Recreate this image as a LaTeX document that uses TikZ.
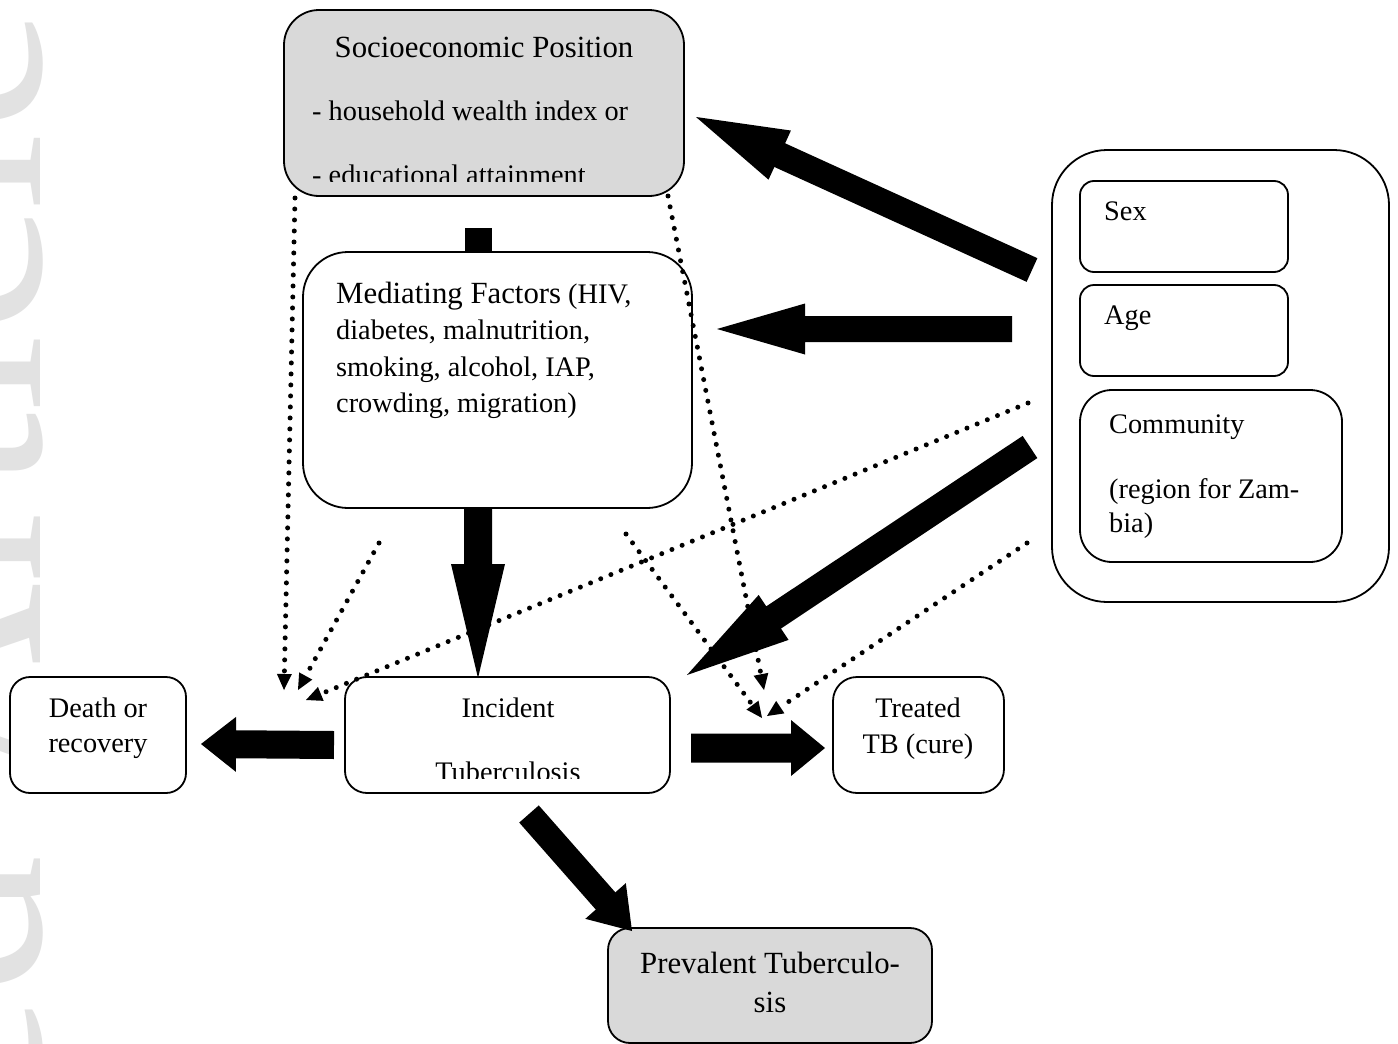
\documentclass[tikz,border=0pt]{standalone}
\usepackage{fontspec}
\setmainfont{Liberation Serif}
\newfontfamily\wmfont{Liberation Serif}
\usetikzlibrary{calc,arrows.meta}
\definecolor{boxgray}{HTML}{D9D9D9}
\definecolor{wmgray}{HTML}{E2E2E2}
\newcommand\txtnorm{\fontsize{28.3pt}{37pt}\selectfont}
\newcommand\txtbig{\fontsize{30.8pt}{40pt}\selectfont}
% tail, tip, half shaft width, half head width, head length
\newcommand\blockarrow[5]{%
  \coordinate (bah) at ($(#2)!#5!(#1)$);
  \fill[blk] ($(#1)!#3!90:(#2)$) -- ($(bah)!#3!90:(#2)$) -- ($(bah)!#4!90:(#2)$) -- (#2)
    -- ($(bah)!#4!-90:(#2)$) -- ($(bah)!#3!-90:(#2)$) -- ($(#1)!#3!-90:(#2)$) -- cycle;}
\begin{document}
\begin{tikzpicture}[x=1pt,y=-1pt,
  box/.style={draw, line width=1.8pt, inner sep=0pt, rounded corners=#1},
  tn/.style={font=\txtnorm, inner sep=0pt},
  tb/.style={font=\txtbig, inner sep=0pt},
  blk/.style={fill=black},
  dotarrow/.style={line width=5pt, line cap=round, dash pattern=on 0pt off 11pt,
    -{Triangle[length=16pt,width=15pt,line width=0pt]}}]
\useasboundingbox (0,0) rectangle (1398,1044);
\fill[white] (0,0) rectangle (1398,1044);

% watermark
\begin{scope}
  \clip (0,0) rectangle (1398,1044);
  \node[rotate=90, anchor=base east, inner sep=0pt, text=wmgray,
    font=\wmfont\fontsize{280pt}{280pt}\selectfont] (wm) at (40,8) {Accepted Article};
\end{scope}

% small block between SEP and mediating factors
\coordinate (sq1) at (465,228);
\coordinate (sq2) at (492,252);
\fill[blk] (sq1) rectangle (sq2);

% boxes
\node[box=35pt, fill=boxgray, minimum width=400pt, minimum height=186pt] (sep) at (484,103) {};
\node[box=45pt, fill=white, minimum width=389pt, minimum height=256pt] (med) at (497.5,380) {};
\node[box=22pt, fill=white, minimum width=325pt, minimum height=116pt] (inc) at (507.5,735) {};
\node[box=20pt, fill=white, minimum width=176pt, minimum height=116pt] (dea) at (98,735) {};
\node[box=24pt, fill=white, minimum width=171pt, minimum height=116pt] (tre) at (918.5,735) {};
\node[box=22pt, fill=boxgray, minimum width=324pt, minimum height=115pt] (pre) at (770,985.5) {};
\node[box=55pt, fill=white, minimum width=337pt, minimum height=452pt] (out) at (1220.5,376) {};
\node[box=14pt, minimum width=208pt, minimum height=91pt] (sex) at (1184,226.5) {};
\node[box=14pt, minimum width=208pt, minimum height=91pt] (age) at (1184,330.5) {};
\node[box=32pt, minimum width=262pt, minimum height=172pt] (com) at (1211,476) {};

% texts
\node[tb, anchor=base] (sep1) at (484,57) {Socioeconomic Position};
\node[tn, anchor=base west] (sep2) at (312,120) {- household wealth index or};
\begin{scope}
  \clip (284,10) rectangle (684,181);
  \node[tn, anchor=base west] (sep3) at (312,184) {- educational attainment};
\end{scope}
\node[tn, anchor=base west] (med1) at (336,303) {{\txtbig Mediating Factors} (HIV,};
\node[tn, anchor=base west] (med2) at (336,339) {diabetes, malnutrition,};
\node[tn, anchor=base west] (med3) at (336,376) {smoking, alcohol, IAP,};
\node[tn, anchor=base west] (med4) at (336,412) {crowding, migration)};
\node[tn, anchor=base west] (sext) at (1104,220) {Sex};
\node[tn, anchor=base west] (aget) at (1104,324) {Age};
\node[tn, anchor=base west] (com1) at (1109,433) {Community};
\node[tn, anchor=base west] (com2) at (1109,498) {(region for Zam-};
\node[tn, anchor=base west] (com3) at (1109,532) {bia)};
\node[tn, anchor=base] (inc1) at (508,717) {Incident};
\begin{scope}
  \clip (345,677) rectangle (670,778);
  \node[tn, anchor=base] (inc2) at (508,781) {Tuberculosis};
\end{scope}
\node[tn, anchor=base] (dea1) at (98,717) {Death or};
\node[tn, anchor=base] (dea2) at (98,752) {recovery};
\node[tn, anchor=base] (tre1) at (918,717) {Treated};
\node[tn, anchor=base] (tre2) at (918,753) {TB (cure)};
\node[tb, anchor=base] (pre1) at (770,973) {Prevalent Tuberculo-};
\node[tb, anchor=base] (pre2) at (770,1012) {sis};

% block arrow end points
\coordinate (a1s) at (1032,270); \coordinate (a1e) at (696,117);
\coordinate (a2s) at (1012,329); \coordinate (a2e) at (717,329);
\coordinate (a3s) at (1030,447); \coordinate (a3e) at (687,675);
\coordinate (a4s) at (334,745);  \coordinate (a4e) at (201,744);
\coordinate (a5s) at (691,748);  \coordinate (a5e) at (825,748);
\coordinate (a6s) at (529,814);  \coordinate (a6e) at (632,931);
\coordinate (a7s) at (478,508);  \coordinate (a7e) at (478,678);

\blockarrow{a1s}{a1e}{13pt}{27pt}{92pt}
\blockarrow{a2s}{a2e}{13pt}{25.5pt}{88pt}
\blockarrow{a3s}{a3e}{13.3pt}{27pt}{104pt}
\blockarrow{a4s}{a4e}{14pt}{27.5pt}{35pt}
\blockarrow{a5s}{a5e}{14.5pt}{28pt}{34pt}
\blockarrow{a6s}{a6e}{13pt}{27pt}{40pt}
\blockarrow{a7s}{a7e}{14pt}{27pt}{114pt}

% dotted arrows
\coordinate (d1s) at (295,198);  \coordinate (d1e) at (284,690);
\coordinate (d2s) at (379,543);  \coordinate (d2e) at (298,690);
\coordinate (d3s) at (1028,403); \coordinate (d3e) at (306,700);
\coordinate (d4s) at (668,196);  \coordinate (d4e) at (764,690);
\coordinate (d5s) at (626,534);  \coordinate (d5e) at (762,718);
\coordinate (d6s) at (1027,543); \coordinate (d6e) at (767,716);
\draw[dotarrow] (d1s) -- (d1e);
\draw[dotarrow] (d2s) -- (d2e);
\draw[dotarrow] (d3s) -- (d3e);
\draw[dotarrow] (d4s) -- (d4e);
\draw[dotarrow] (d5s) -- (d5e);
\draw[dotarrow] (d6s) -- (d6e);
\end{tikzpicture}
\end{document}
